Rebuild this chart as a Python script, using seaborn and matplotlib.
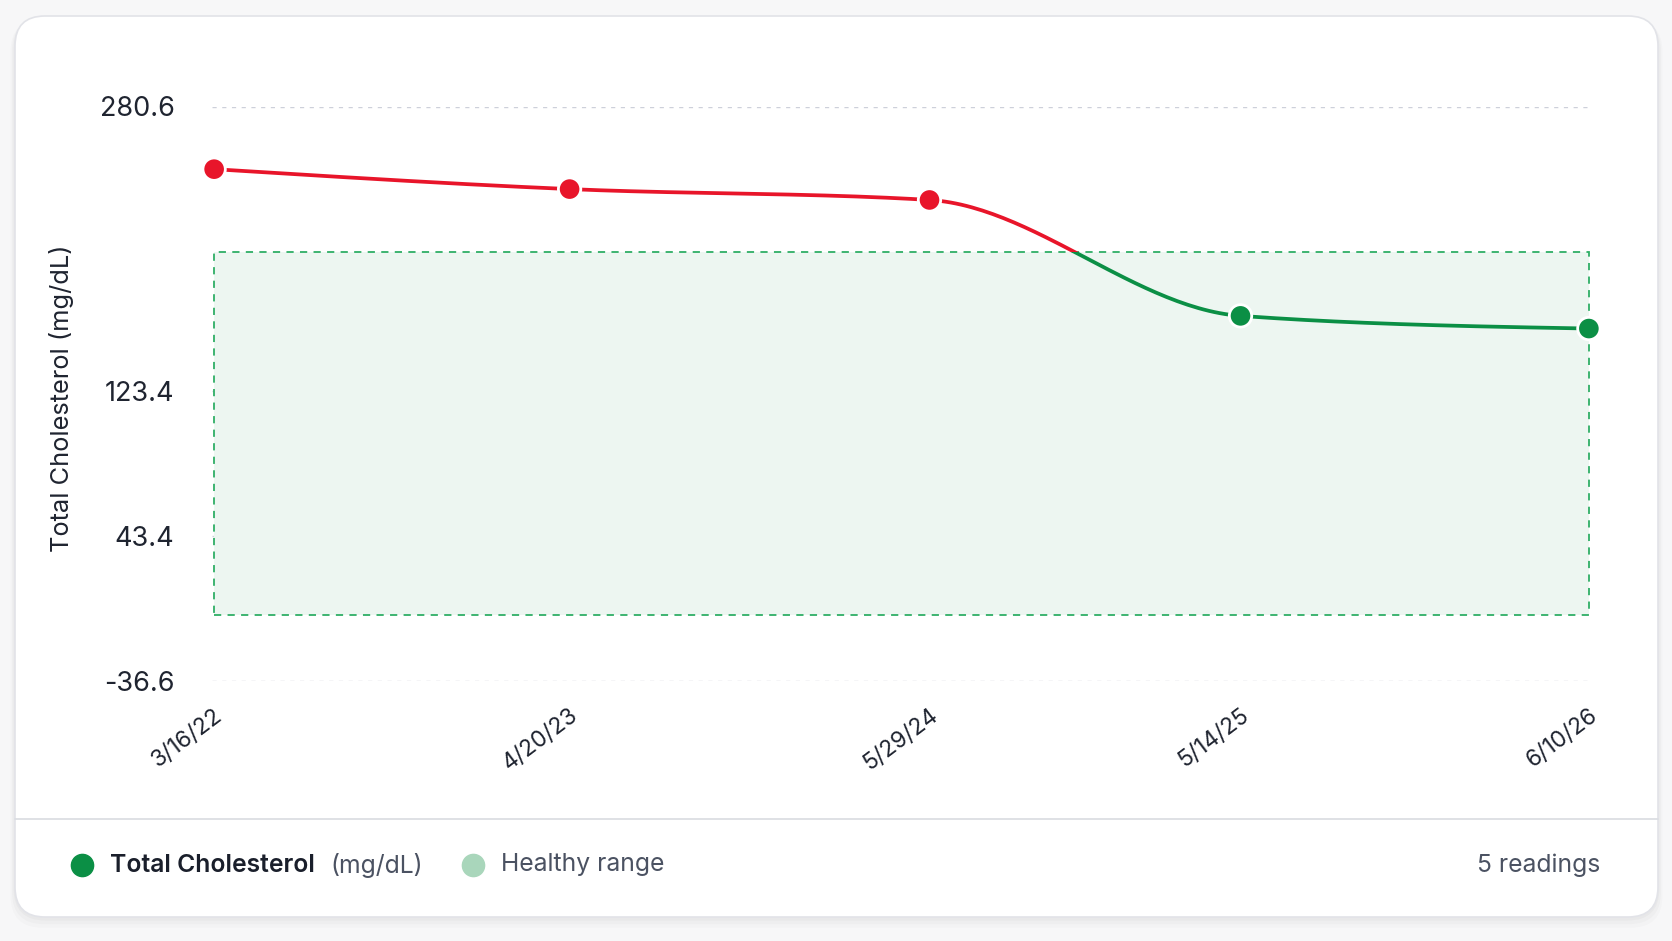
import numpy as np
import pandas as pd
import matplotlib
matplotlib.use("Agg")
import matplotlib.pyplot as plt
import matplotlib.dates as mdates
from matplotlib.patches import FancyBboxPatch, Rectangle
from matplotlib.lines import Line2D
from matplotlib.transforms import ScaledTranslation
import seaborn as sns

# readings
dates = ["2022-03-16", "2023-04-20", "2024-05-29", "2025-05-14", "2026-06-10"]
date_labels = ["3/16/22", "4/20/23", "5/29/24", "5/14/25", "6/10/26"]
cholesterol = [246, 235, 229, 165, 158]

# healthy band and axis
healthy_low = 0
healthy_high = 200
y_limits = (-36.6, 280.6)
y_ticks = [-36.6, 43.4, 123.4, 280.6]
y_tick_labels = ["-36.6", "43.4", "123.4", "280.6"]

RED = "#e8152a"
GREEN = "#0b8f45"
W, H = 1672, 941


def monotone_curve(x, y, n=60):
    """monotone cubic (like d3 curveMonotoneX) through the points"""
    x = np.asarray(x, float)
    y = np.asarray(y, float)
    h = np.diff(x)
    s = np.diff(y) / h
    t = np.zeros_like(y)
    for i in range(1, len(y) - 1):
        p = (s[i - 1] * h[i] + s[i] * h[i - 1]) / (h[i - 1] + h[i])
        t[i] = (np.sign(s[i - 1]) + np.sign(s[i])) * min(abs(s[i - 1]), abs(s[i]), 0.5 * abs(p))
    t[0] = (3 * s[0] - t[1]) / 2
    t[-1] = (3 * s[-1] - t[-2]) / 2
    xs, ys = [], []
    for i in range(len(h)):
        u = np.linspace(0, 1, n)
        h00 = 2 * u**3 - 3 * u**2 + 1
        h10 = u**3 - 2 * u**2 + u
        h01 = -2 * u**3 + 3 * u**2
        h11 = u**3 - u**2
        xs.append(x[i] + u * h[i])
        ys.append(h00 * y[i] + h10 * h[i] * t[i] + h01 * y[i + 1] + h11 * h[i] * t[i + 1])
    return np.concatenate(xs), np.concatenate(ys)


def px(x, y):
    # pixel position (from top-left) -> inches
    return x / 100, (H - y) / 100


df = pd.DataFrame({"date": pd.to_datetime(dates), "value": cholesterol})
df["status"] = np.where(df["value"] > healthy_high, "high", "ok")

sns.set_theme(style="white")
plt.rcParams["font.family"] = ["Inter", "DejaVu Sans"]

fig = plt.figure(figsize=(W / 100, H / 100), dpi=100)
fig.patch.set_facecolor("#f7f7f8")

# card with soft shadow
for i, a in enumerate([0.025, 0.02, 0.015]):
    off = (i + 1) * 0.03
    sh = FancyBboxPatch((0.15 - off / 2, 0.24 - off * 1.2), 16.43 + off, 9.01 + off * 0.8,
                        boxstyle="round,pad=0,rounding_size=0.32", transform=fig.dpi_scale_trans,
                        facecolor="black", edgecolor="none", alpha=a, zorder=0)
    fig.add_artist(sh)
card = FancyBboxPatch((0.15, 0.24), 16.43, 9.01, boxstyle="round,pad=0,rounding_size=0.3",
                      transform=fig.dpi_scale_trans, facecolor="white", edgecolor="#e2e3e8",
                      linewidth=1.2, zorder=0.5)
fig.add_artist(card)
fig.add_artist(Line2D([0.15, 16.58], [(H - 819) / 100] * 2, transform=fig.dpi_scale_trans,
                      color="#dcdee3", lw=1.3, zorder=1))

ax = fig.add_axes([212 / W, (H - 681) / H, 1379 / W, (681 - 106.5) / H])
ax.set_facecolor("none")
ax.set_zorder(2)

xnum = mdates.date2num(df["date"])
pad = 2.4
ax.set_xlim(xnum[0] - pad, xnum[-1] + pad)
ax.set_ylim(*y_limits)

# healthy range band
ax.add_patch(Rectangle((xnum[0], healthy_low), xnum[-1] - xnum[0], healthy_high - healthy_low,
                       facecolor="#edf6f1", edgecolor="none", zorder=1))
ax.add_patch(Rectangle((xnum[0], healthy_low), xnum[-1] - xnum[0], healthy_high - healthy_low,
                       facecolor="none", edgecolor="#2fae66", lw=1.3,
                       linestyle=(0, (4, 3.5)), zorder=2))

# smooth line, red above the healthy max, green inside
cx, cy = monotone_curve(xnum, df["value"].values)
curve_dates = pd.to_datetime(mdates.num2date(cx)).tz_localize(None)
for color, y0, y1 in [(RED, healthy_high, 1000), (GREEN, -1000, healthy_high)]:
    n_before = len(ax.lines)
    sns.lineplot(x=curve_dates, y=cy, ax=ax, color=color, linewidth=2.7, sort=False,
                 estimator=None, zorder=3)
    clip = Rectangle((cx[0] - 50, y0), cx[-1] - cx[0] + 100, y1 - y0, transform=ax.transData)
    for ln in ax.lines[n_before:]:
        ln.set_clip_path(clip)
        ln.set_solid_capstyle("round")

sns.scatterplot(data=df, x="date", y="value", hue="status",
                palette={"high": RED, "ok": GREEN}, s=260, edgecolor="white",
                linewidth=2, ax=ax, zorder=4, legend=False, clip_on=False)

ax.yaxis.grid(True, color="#cdd0da", linestyle=(0, (3, 4)), lw=1)
ax.xaxis.grid(False)
for sp in ax.spines.values():
    sp.set_visible(False)
ax.set_yticks(y_ticks)
ax.set_yticklabels(y_tick_labels)
ax.set_xticks(df["date"])
ax.set_xticklabels(date_labels, rotation=37, ha="right", va="center", rotation_mode="anchor")
ax.tick_params(axis="y", length=0, pad=27, labelsize=19.5, labelcolor="#1f2430")
ax.tick_params(axis="x", length=0, pad=23, labelsize=16.5, labelcolor="#1f2430")
shift = ScaledTranslation(0.06, 0, fig.dpi_scale_trans)
for lab in ax.get_xticklabels():
    lab.set_transform(lab.get_transform() + shift)
ax.set_xlabel("")
ax.set_ylabel("")

fig.text(*px(62, 398), "Total Cholesterol (mg/dL)", transform=fig.dpi_scale_trans,
         rotation=90, ha="center", va="center", fontsize=18.3, color="#1f2430")

# footer legend
fy = 865
fs = 17.8
fig.add_artist(Line2D([px(82, fy)[0]], [px(82, fy)[1]], marker="o", markersize=16,
                      color=GREEN, transform=fig.dpi_scale_trans))
fig.text(*px(110, fy), "Total Cholesterol", transform=fig.dpi_scale_trans, ha="left",
         va="center", fontsize=fs, fontweight="semibold", color="#1a1f2b")
fig.text(*px(330, fy), "(mg/dL)", transform=fig.dpi_scale_trans, ha="left",
         va="center", fontsize=fs, color="#4b5262")
fig.add_artist(Line2D([px(473, fy)[0]], [px(473, fy)[1]], marker="o", markersize=16,
                      color="#a9d6bb", transform=fig.dpi_scale_trans))
fig.text(*px(501, fy), "Healthy range", transform=fig.dpi_scale_trans, ha="left",
         va="center", fontsize=fs, color="#4b5262")
fig.text(*px(1600, fy), f"{len(df)} readings", transform=fig.dpi_scale_trans, ha="right",
         va="center", fontsize=fs, color="#4b5262")

fig.savefig("out.png", dpi=100, facecolor=fig.get_facecolor())
